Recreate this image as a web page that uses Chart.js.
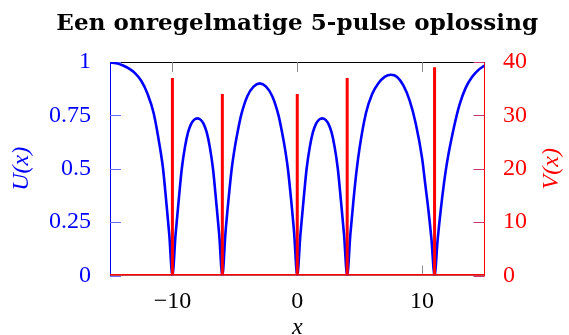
<!DOCTYPE html>
<html>
<head>
<meta charset="utf-8">
<script src="https://cdn.jsdelivr.net/npm/chart.js@4.4.0/dist/chart.umd.min.js"></script>
<style>
    html, body { margin: 0; padding: 0; background: #ffffff; }
</style>
</head>
<body>
<canvas id="pulse-canvas" width="569" height="335"></canvas>
<script>
// U(x)
var uX = [-15, -14.5, -14, -13.5, -13, -12.5, -12, -11.5, -11, -10.75, -10.5, -10.25, -10,
    -9.75, -9.5, -9.25, -9, -8.75, -8.5, -8.25, -8, -7.75, -7.5, -7.25, -7, -6.75, -6.5, -6.25, -6,
    -5.75, -5.5, -5.25, -5, -4.75, -4.5, -4, -3.5, -3, -2.5, -2, -1.5, -1.25, -1, -0.75, -0.5, -0.25, 0,
    0.25, 0.5, 0.75, 1, 1.25, 1.5, 1.75, 2, 2.25, 2.5, 2.75, 3, 3.25, 3.5, 3.75, 4,
    4.25, 4.5, 4.75, 5, 5.5, 6, 6.5, 7, 7.5, 8, 8.5, 9, 9.5, 10, 10.25, 10.5, 10.75, 11,
    11.25, 11.5, 11.75, 12, 12.5, 13, 13.5, 14, 14.5, 15];
var uY = [0.998, 0.994, 0.985, 0.97, 0.948, 0.912, 0.852, 0.76, 0.6, 0.5, 0.35, 0.19, 0,
    0.19, 0.35, 0.5, 0.6, 0.67, 0.71, 0.73, 0.736, 0.73, 0.71, 0.67, 0.6, 0.5, 0.35, 0.19, 0,
    0.2, 0.36, 0.5, 0.6, 0.68, 0.75, 0.84, 0.885, 0.9, 0.885, 0.84, 0.75, 0.68, 0.6, 0.5, 0.36, 0.2, 0,
    0.19, 0.35, 0.5, 0.6, 0.67, 0.71, 0.73, 0.736, 0.73, 0.71, 0.67, 0.6, 0.5, 0.35, 0.19, 0,
    0.19, 0.35, 0.49, 0.6, 0.76, 0.85, 0.9, 0.93, 0.94, 0.93, 0.89, 0.82, 0.71, 0.55, 0.43, 0.31, 0.17, 0,
    0.17, 0.31, 0.43, 0.53, 0.68, 0.8, 0.88, 0.93, 0.962, 0.983];

// V(x): the five pulses
var pulseX = [-10, -6, 0, 4, 11];
var pulseV = [37, 34, 34, 37, 39];

var xTicks = [-10, 0, 10];
var uTicks = [0, 0.25, 0.5, 0.75, 1];
var vTicks = [0, 10, 20, 30, 40];

var chartTitle = 'Een onregelmatige 5-pulse oplossing';

var serif = "'Liberation Serif', 'Times New Roman', serif";

function tickObjs(list) {
    return list.map(function (v) { return { value: v }; });
}

function uData() {
    var pts = [];
    for (var i = 0; i < uX.length; i++) {
        pts.push({ x: uX[i], y: uY[i] });
    }
    return pts;
}

function vData() {
    var pts = [{ x: -15, y: 0 }];
    for (var i = 0; i < pulseX.length; i++) {
        pts.push({ x: pulseX[i], y: 0 });
        pts.push({ x: pulseX[i], y: pulseV[i] });
        pts.push({ x: pulseX[i], y: 0 });
    }
    pts.push({ x: 15, y: 0 });
    return pts;
}

// inward tick marks, top frame line, title and the right axis title
var frameTicks = {
    id: 'frameTicks',
    beforeDatasetsDraw: function (chart) {
        var ctx = chart.ctx;
        var a = chart.chartArea;
        var xs = chart.scales.x, yu = chart.scales.yU, yv = chart.scales.yV;

        function seg(x1, y1, x2, y2) {
            ctx.beginPath();
            ctx.moveTo(x1, y1);
            ctx.lineTo(x2, y2);
            ctx.stroke();
        }

        ctx.save();
        ctx.lineWidth = 1;
        ctx.strokeStyle = '#000000';
        seg(a.left, a.top + 0.5, a.right, a.top + 0.5);

        ctx.strokeStyle = '#8c8c8c';
        xTicks.forEach(function (v) {
            var px = Math.round(xs.getPixelForValue(v)) + 0.5;
            seg(px, a.top, px, a.top + 10);
            seg(px, a.bottom, px, a.bottom - 10);
        });

        ctx.strokeStyle = '#6a6aff';
        uTicks.forEach(function (v) {
            var py = Math.round(yu.getPixelForValue(v)) + 0.5;
            seg(a.left, py, a.left + 11, py);
        });

        ctx.strokeStyle = '#c8326e';
        vTicks.forEach(function (v) {
            var py = Math.round(yv.getPixelForValue(v)) + 0.5;
            seg(a.right, py, a.right - 11, py);
        });
        ctx.restore();
    },
    afterDraw: function (chart) {
        var ctx = chart.ctx;
        var a = chart.chartArea;

        // right axis title reads bottom to top, like the left one
        ctx.save();
        ctx.translate(551.5, (a.top + a.bottom) / 2);
        ctx.rotate(-Math.PI / 2);
        ctx.fillStyle = '#ff0000';
        ctx.font = 'italic 24px ' + serif;
        ctx.textAlign = 'center';
        ctx.textBaseline = 'middle';
        ctx.fillText('V(x)', 0, 0);
        ctx.restore();

        // title, spread to the width of the wide bold face in the reference
        ctx.save();
        ctx.fillStyle = '#000000';
        ctx.font = "bold 23px 'DejaVu Serif', serif";
        ctx.textBaseline = 'alphabetic';
        ctx.textAlign = 'left';
        var w0 = ctx.measureText(chartTitle).width;
        var target = 482;
        var sp = (target - w0) / (chartTitle.length - 1);
        if ('letterSpacing' in ctx) {
            ctx.letterSpacing = sp.toFixed(2) + 'px';
        }
        var w = ctx.measureText(chartTitle).width;
        ctx.fillText(chartTitle, (a.left + a.right) / 2 - w / 2, 30);
        ctx.restore();
    }
};

var config = {
    type: 'line',
    data: {
        datasets: [{
            label: 'V(x)',
            data: vData(),
            yAxisID: 'yV',
            borderColor: '#ff0000',
            borderWidth: 3,
            borderJoinStyle: 'bevel',
            tension: 0,
            pointRadius: 0,
            order: 0
        }, {
            label: 'U(x)',
            data: uData(),
            yAxisID: 'yU',
            borderColor: '#0000ff',
            borderWidth: 2.6,
            cubicInterpolationMode: 'monotone',
            pointRadius: 0,
            order: 1
        }]
    },
    options: {
        responsive: false,
        animation: false,
        layout: { padding: { top: 62 } },
        plugins: {
            legend: { display: false },
            tooltip: { enabled: false },
            title: { display: false }
        },
        scales: {
            x: {
                type: 'linear',
                min: -15,
                max: 15,
                afterBuildTicks: function (scale) { scale.ticks = tickObjs(xTicks); },
                afterFit: function (scale) { scale.height = 59.5; },
                grid: { display: false },
                border: { display: true, color: '#8c8c8c', width: 1 },
                ticks: {
                    color: '#000000',
                    padding: 4,
                    maxRotation: 0,
                    font: { family: serif, size: 24 },
                    callback: function (v) { return String(v).replace('-', '\u2212'); }
                },
                title: {
                    display: true,
                    text: 'x',
                    color: '#000000',
                    font: { family: serif, size: 24, style: 'italic', lineHeight: 0.6 },
                    padding: 0
                }
            },
            yU: {
                type: 'linear',
                position: 'left',
                min: 0,
                max: 1,
                afterBuildTicks: function (scale) { scale.ticks = tickObjs(uTicks); },
                afterFit: function (scale) { scale.width = 110; },
                grid: { display: false },
                border: { display: true, color: '#0000ff', width: 1 },
                ticks: {
                    color: '#0000ff',
                    padding: 11,
                    font: { family: serif, size: 24 },
                    callback: function (v) { return String(v); }
                },
                title: {
                    display: true,
                    text: 'U(x)',
                    color: '#0000ff',
                    font: { family: serif, size: 24, style: 'italic', lineHeight: 1 },
                    padding: { top: 9.7, bottom: 0 }
                }
            },
            yV: {
                type: 'linear',
                position: 'right',
                min: 0,
                max: 40,
                afterBuildTicks: function (scale) { scale.ticks = tickObjs(vTicks); },
                afterFit: function (scale) { scale.width = 84.5; },
                grid: { display: false },
                border: { display: true, color: '#ff0000', width: 1 },
                ticks: {
                    color: '#ff0000',
                    padding: 10.5,
                    font: { family: serif, size: 24 },
                    callback: function (v) { return String(v); }
                }
            }
        }
    },
    plugins: [frameTicks]
};

var ctx = document.getElementById('pulse-canvas').getContext('2d');
window.pulseChart = new Chart(ctx, config);
</script>
</body>
</html>
